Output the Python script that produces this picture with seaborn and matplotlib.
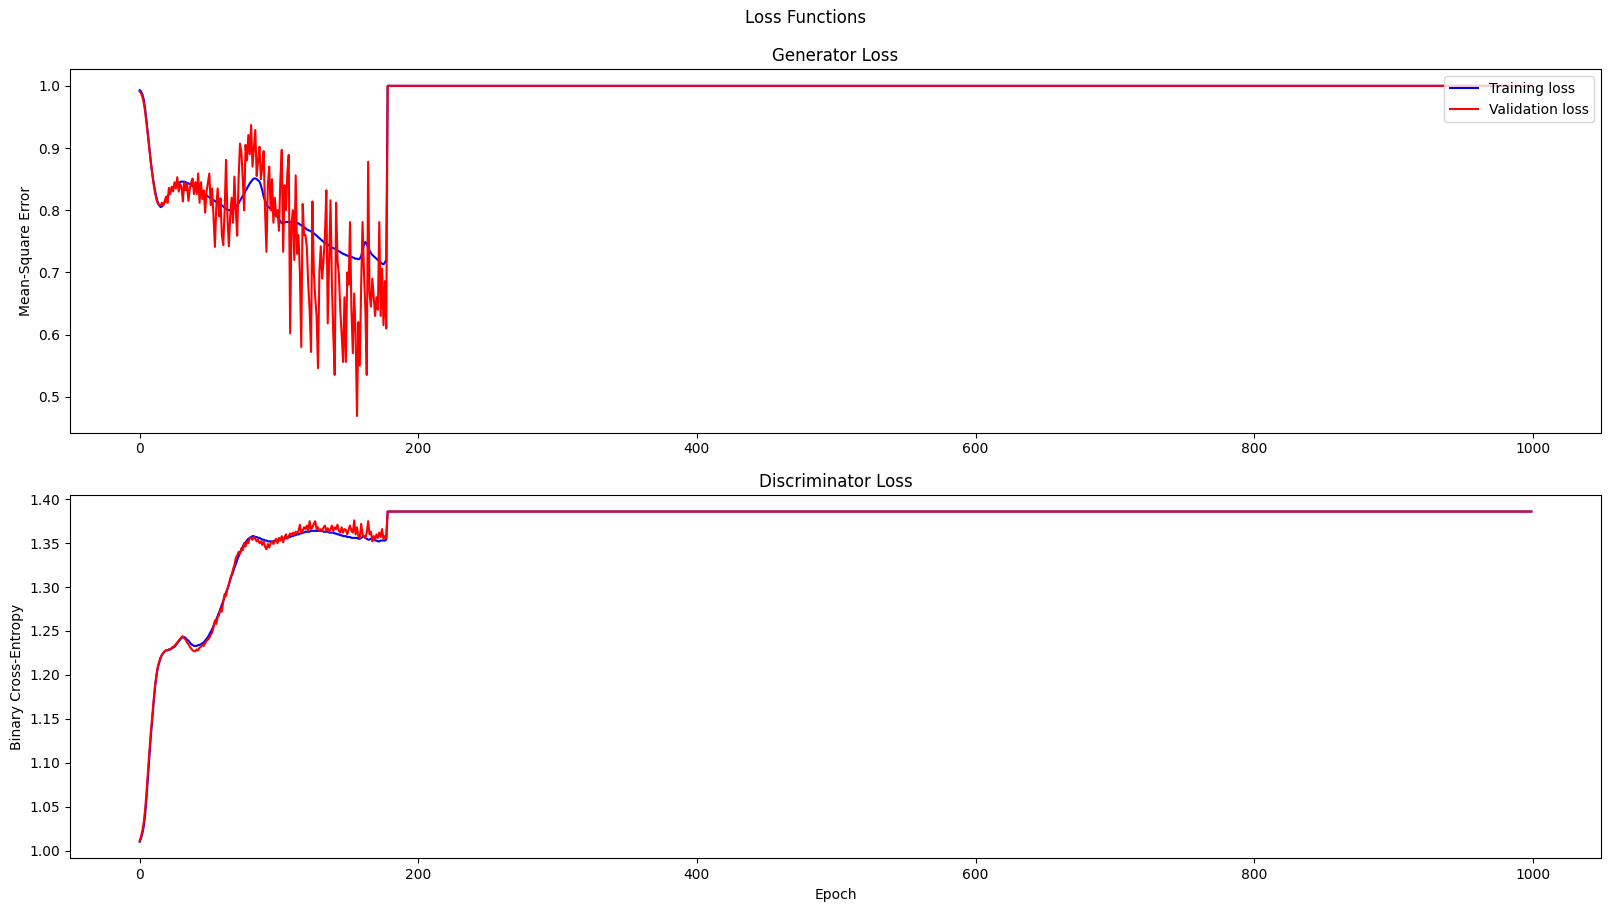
import pandas as pd
import matplotlib
matplotlib.use("Agg")
import matplotlib.pyplot as plt
import seaborn as sns

# Values: epochs 0..177 vary, after that the losses sit flat
gen_train_head = [
    0.993, 0.991, 0.986, 0.977, 0.962, 0.942, 0.921, 0.899, 0.878, 0.860,
    0.845, 0.832, 0.821, 0.813, 0.808, 0.805, 0.806, 0.809, 0.813, 0.818,
    0.822, 0.826, 0.830, 0.833, 0.836, 0.839, 0.841, 0.843, 0.844, 0.845,
    0.846, 0.846, 0.846, 0.845, 0.844, 0.843, 0.842, 0.840, 0.839, 0.838,
    0.836, 0.835, 0.833, 0.832, 0.830, 0.829, 0.827, 0.825, 0.824, 0.822,
    0.821, 0.819, 0.818, 0.816, 0.815, 0.813, 0.812, 0.811, 0.809, 0.808,
    0.806, 0.804, 0.802, 0.801, 0.800, 0.800, 0.801, 0.802, 0.804, 0.806,
    0.808, 0.811, 0.815, 0.819, 0.823, 0.827, 0.831, 0.835, 0.839, 0.843,
    0.846, 0.849, 0.851, 0.851, 0.850, 0.848, 0.846, 0.840, 0.832, 0.822,
    0.815, 0.810, 0.806, 0.804, 0.803, 0.800, 0.797, 0.794, 0.791, 0.789,
    0.786, 0.782, 0.779, 0.779, 0.780, 0.781, 0.781, 0.781, 0.781, 0.780,
    0.780, 0.779, 0.779, 0.779, 0.779, 0.777, 0.776, 0.774, 0.773, 0.771,
    0.769, 0.768, 0.767, 0.766, 0.764, 0.763, 0.761, 0.759, 0.757, 0.755,
    0.753, 0.751, 0.749, 0.748, 0.746, 0.745, 0.743, 0.742, 0.740, 0.739,
    0.738, 0.737, 0.735, 0.734, 0.733, 0.731, 0.730, 0.729, 0.728, 0.727,
    0.726, 0.726, 0.725, 0.724, 0.723, 0.722, 0.722, 0.721, 0.722, 0.726,
    0.735, 0.745, 0.749, 0.745, 0.740, 0.735, 0.731, 0.728, 0.726, 0.724,
    0.722, 0.720, 0.718, 0.716, 0.714, 0.713, 0.716, 0.720,
]

gen_val_head = [
    0.991, 0.988, 0.982, 0.972, 0.957, 0.938, 0.918, 0.897, 0.877, 0.858,
    0.842, 0.828, 0.818, 0.811, 0.808, 0.808, 0.812, 0.808, 0.815, 0.822,
    0.812, 0.836, 0.826, 0.838, 0.830, 0.845, 0.835, 0.853, 0.830, 0.842,
    0.838, 0.814, 0.845, 0.832, 0.843, 0.815, 0.835, 0.845, 0.851, 0.826,
    0.845, 0.826, 0.859, 0.812, 0.845, 0.818, 0.832, 0.796, 0.830, 0.845,
    0.859, 0.808, 0.835, 0.790, 0.741, 0.805, 0.835, 0.790, 0.819, 0.760,
    0.744, 0.800, 0.881, 0.790, 0.742, 0.790, 0.820, 0.780, 0.854, 0.800,
    0.759, 0.850, 0.907, 0.894, 0.850, 0.800, 0.905, 0.880, 0.921, 0.890,
    0.937, 0.870, 0.900, 0.929, 0.855, 0.880, 0.902, 0.850, 0.870, 0.895,
    0.800, 0.733, 0.840, 0.870, 0.800, 0.850, 0.780, 0.820, 0.790, 0.800,
    0.767, 0.850, 0.897, 0.733, 0.840, 0.800, 0.860, 0.889, 0.602, 0.780,
    0.800, 0.720, 0.856, 0.730, 0.760, 0.700, 0.580, 0.810, 0.760, 0.760,
    0.740, 0.680, 0.640, 0.572, 0.814, 0.700, 0.660, 0.630, 0.546, 0.700,
    0.742, 0.690, 0.720, 0.760, 0.832, 0.618, 0.720, 0.816, 0.680, 0.600,
    0.535, 0.812, 0.720, 0.696, 0.640, 0.600, 0.556, 0.660, 0.556, 0.700,
    0.680, 0.781, 0.640, 0.570, 0.666, 0.600, 0.469, 0.620, 0.550, 0.680,
    0.781, 0.700, 0.640, 0.535, 0.878, 0.666, 0.645, 0.690, 0.660, 0.630,
    0.660, 0.640, 0.781, 0.630, 0.706, 0.615, 0.686, 0.610,
]

disc_train_head = [
    1.010, 1.014, 1.020, 1.028, 1.042, 1.062, 1.085, 1.108, 1.130, 1.148,
    1.168, 1.185, 1.198, 1.208, 1.214, 1.219, 1.223, 1.225, 1.227, 1.228,
    1.228, 1.229, 1.229, 1.230, 1.231, 1.232, 1.234, 1.236, 1.238, 1.240,
    1.242, 1.243, 1.243, 1.242, 1.240, 1.239, 1.237, 1.235, 1.234, 1.233,
    1.233, 1.233, 1.234, 1.234, 1.235, 1.236, 1.237, 1.239, 1.241, 1.243,
    1.246, 1.249, 1.252, 1.256, 1.260, 1.263, 1.267, 1.271, 1.275, 1.280,
    1.284, 1.289, 1.294, 1.298, 1.303, 1.308, 1.313, 1.317, 1.322, 1.326,
    1.331, 1.335, 1.339, 1.343, 1.346, 1.349, 1.351, 1.353, 1.355, 1.356,
    1.357, 1.358, 1.358, 1.357, 1.357, 1.356, 1.356, 1.355, 1.354, 1.354,
    1.353, 1.353, 1.352, 1.352, 1.352, 1.352, 1.352, 1.353, 1.353, 1.353,
    1.353, 1.354, 1.354, 1.355, 1.355, 1.356, 1.356, 1.357, 1.357, 1.358,
    1.358, 1.359, 1.359, 1.360, 1.360, 1.361, 1.361, 1.362, 1.362, 1.363,
    1.363, 1.363, 1.363, 1.364, 1.364, 1.364, 1.364, 1.364, 1.364, 1.364,
    1.364, 1.364, 1.363, 1.363, 1.363, 1.363, 1.362, 1.362, 1.362, 1.362,
    1.361, 1.361, 1.360, 1.360, 1.359, 1.359, 1.358, 1.358, 1.358, 1.357,
    1.357, 1.357, 1.356, 1.356, 1.356, 1.356, 1.356, 1.355, 1.355, 1.356,
    1.357, 1.358, 1.356, 1.355, 1.354, 1.354, 1.355, 1.356, 1.354, 1.353,
    1.353, 1.352, 1.352, 1.353, 1.353, 1.353, 1.353, 1.354,
]

disc_val_head = [
    1.011, 1.016, 1.023, 1.033, 1.048, 1.068, 1.091, 1.114, 1.135, 1.153,
    1.172, 1.188, 1.200, 1.209, 1.215, 1.220, 1.223, 1.225, 1.227, 1.228,
    1.228, 1.229, 1.229, 1.231, 1.232, 1.233, 1.235, 1.237, 1.239, 1.241,
    1.243, 1.244, 1.242, 1.240, 1.237, 1.235, 1.232, 1.230, 1.228, 1.227,
    1.227, 1.229, 1.228, 1.231, 1.232, 1.234, 1.233, 1.236, 1.239, 1.240,
    1.242, 1.246, 1.248, 1.254, 1.262, 1.258, 1.266, 1.268, 1.276, 1.272,
    1.284, 1.292, 1.290, 1.298, 1.302, 1.310, 1.314, 1.320, 1.325, 1.333,
    1.336, 1.340, 1.338, 1.344, 1.342, 1.350, 1.346, 1.352, 1.350, 1.356,
    1.356, 1.354, 1.357, 1.355, 1.352, 1.354, 1.350, 1.352, 1.348, 1.352,
    1.346, 1.343, 1.349, 1.345, 1.350, 1.352, 1.349, 1.352, 1.355, 1.350,
    1.356, 1.353, 1.358, 1.351, 1.357, 1.360, 1.355, 1.358, 1.361, 1.359,
    1.362, 1.360, 1.363, 1.361, 1.364, 1.371, 1.362, 1.364, 1.368, 1.366,
    1.370, 1.364, 1.375, 1.366, 1.368, 1.372, 1.375, 1.366, 1.368, 1.364,
    1.366, 1.364, 1.368, 1.370, 1.364, 1.367, 1.363, 1.366, 1.370, 1.364,
    1.368, 1.366, 1.371, 1.364, 1.362, 1.368, 1.362, 1.366, 1.365, 1.360,
    1.366, 1.370, 1.364, 1.362, 1.376, 1.360, 1.368, 1.358, 1.356, 1.372,
    1.360, 1.357, 1.356, 1.362, 1.375, 1.360, 1.363, 1.352, 1.358, 1.354,
    1.360, 1.356, 1.362, 1.357, 1.366, 1.355, 1.358, 1.356,
]

# flat part of the run (epoch 178 up to the last epoch, 999)
plateau_epochs = [178, 999]
gen_plateau = 1.0
disc_plateau = 1.386


def build_series(head, plateau):
    """Joins the varying start of a curve with its flat tail."""
    epochs = list(range(len(head))) + plateau_epochs
    values = list(head) + [plateau] * len(plateau_epochs)
    return pd.DataFrame({"epoch": epochs, "loss": values})


gen_train = build_series(gen_train_head, gen_plateau)
gen_val = build_series(gen_val_head, gen_plateau)
disc_train = build_series(disc_train_head, disc_plateau)
disc_val = build_series(disc_val_head, disc_plateau)

fig, (ax_gen, ax_disc) = plt.subplots(2, 1, figsize=(16.11, 9.11), dpi=100)
fig.subplots_adjust(left=0.0435, right=0.9938, top=0.9239, bottom=0.0579, hspace=0.172)
fig.suptitle("Loss Functions", y=0.99)

# Generator
sns.lineplot(data=gen_train, x="epoch", y="loss", color="blue", label="Training loss", ax=ax_gen)
sns.lineplot(data=gen_val, x="epoch", y="loss", color="red", label="Validation loss", ax=ax_gen)
ax_gen.set_title("Generator Loss")
ax_gen.set_xlabel("")
ax_gen.set_ylabel("Mean-Square Error")
ax_gen.legend(loc="upper right")

# Discriminator
sns.lineplot(data=disc_train, x="epoch", y="loss", color="blue", legend=False, ax=ax_disc)
sns.lineplot(data=disc_val, x="epoch", y="loss", color="red", legend=False, ax=ax_disc)
ax_disc.set_title("Discriminator Loss")
ax_disc.set_xlabel("Epoch")
ax_disc.set_ylabel("Binary Cross-Entropy")

fig.savefig("out.png", dpi=100)
